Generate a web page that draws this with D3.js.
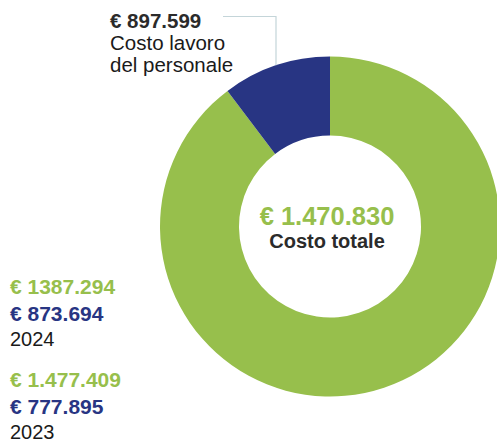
<!DOCTYPE html>
<html><head><meta charset="utf-8">
<script src="https://cdn.jsdelivr.net/npm/d3@7"></script>
<style>
html,body{margin:0;padding:0;background:#fff;overflow:hidden;}
text{font-family:"Liberation Sans",Arial,Helvetica,sans-serif;}
</style></head>
<body>
<svg id="c" width="497" height="441"></svg>
<script>
// Data (slice shares)
const categories = ["Altri costi", "Costo lavoro del personale"];
const sliceValues = [89.7, 10.3];
const colors = ["#97bf4c", "#283583"];
const totalLabel = "€ 1.470.830";
const totalCaption = "Costo totale";
const personaleLabel = "€ 897.599";
const personaleCaption = ["Costo lavoro", "del personale"];
const years = ["2024", "2023"];
const yearTotals = ["€ 1387.294", "€ 1.477.409"];
const yearPersonale = ["€ 873.694", "€ 777.895"];

const svg = d3.select("#c");
const cx = 330, cy = 226.5, rOuter = 170, rInner = 91;

const pie = d3.pie().sort(null).value(d => d)(sliceValues);
const arc = d3.arc().innerRadius(rInner).outerRadius(rOuter);
const g = svg.append("g").attr("transform", `translate(${cx},${cy})`);
g.selectAll("path").data(pie).enter().append("path")
  .attr("d", arc).attr("fill", (d, i) => colors[i]);

// leader line
const lx = 276;
const ly = cy - Math.sqrt(rOuter * rOuter - (lx - cx) * (lx - cx));
svg.append("path")
  .attr("d", `M223,16.5H${lx}V${ly}`)
  .attr("fill", "none").attr("stroke", "#c4d5d9").attr("stroke-width", 1.2);

// top label
svg.append("text").attr("x", 110).attr("y", 27.5)
  .attr("font-size", 20.5).attr("font-weight", "bold").attr("fill", "#2b2b2b")
  .text(personaleLabel);
personaleCaption.forEach((t, i) => {
  svg.append("text").attr("x", 110).attr("y", 50 + i * 22)
    .attr("font-size", 20.5).attr("fill", "#1a1a1a").text(t);
});

// center
svg.append("text").attr("x", cx - 3).attr("y", 225).attr("text-anchor", "middle")
  .attr("font-size", 25.5).attr("font-weight", "bold").attr("fill", "#97bf4c")
  .text(totalLabel);
svg.append("text").attr("x", cx - 3).attr("y", 248).attr("text-anchor", "middle")
  .attr("font-size", 20).attr("font-weight", "bold").attr("fill", "#2b2b2b")
  .text(totalCaption);

// year blocks
const base = [294, 387];
years.forEach((y, i) => {
  const b = base[i];
  svg.append("text").attr("x", 10).attr("y", b)
    .attr("font-size", 21).attr("font-weight", "bold").attr("fill", "#97bf4c").text(yearTotals[i]);
  svg.append("text").attr("x", 10).attr("y", b + 26.5)
    .attr("font-size", 21).attr("font-weight", "bold").attr("fill", "#283583").text(yearPersonale[i]);
  svg.append("text").attr("x", 10).attr("y", b + 51.5)
    .attr("font-size", 20).attr("fill", "#1a1a1a").text(y);
});
</script>
</body></html>
